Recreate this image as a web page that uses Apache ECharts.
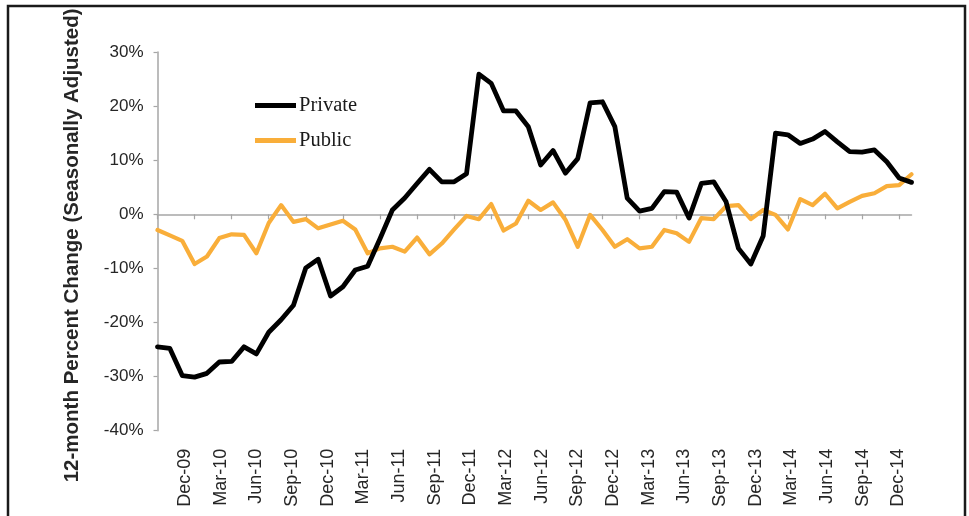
<!DOCTYPE html>
<html>
<head>
<meta charset="utf-8">
<script src="https://cdn.jsdelivr.net/npm/echarts@6/dist/echarts.min.js"></script>
<style>
html,body{margin:0;padding:0;background:#fff;}
#chart{width:969px;height:516px;}
</style>
</head>
<body>
<div id="chart"></div>
<script>
const months = ['Nov-09','Dec-09',
'Jan-10','Feb-10','Mar-10','Apr-10','May-10','Jun-10','Jul-10','Aug-10','Sep-10','Oct-10','Nov-10','Dec-10',
'Jan-11','Feb-11','Mar-11','Apr-11','May-11','Jun-11','Jul-11','Aug-11','Sep-11','Oct-11','Nov-11','Dec-11',
'Jan-12','Feb-12','Mar-12','Apr-12','May-12','Jun-12','Jul-12','Aug-12','Sep-12','Oct-12','Nov-12','Dec-12',
'Jan-13','Feb-13','Mar-13','Apr-13','May-13','Jun-13','Jul-13','Aug-13','Sep-13','Oct-13','Nov-13','Dec-13',
'Jan-14','Feb-14','Mar-14','Apr-14','May-14','Jun-14','Jul-14','Aug-14','Sep-14','Oct-14','Nov-14','Dec-14'];

const privateVals = [-24.5,-24.8,-29.8,-30.1,-29.4,-27.3,-27.2,-24.5,-25.8,-21.8,
-19.5,-16.8,-9.9,-8.3,-15.1,-13.4,-10.3,-9.6,-4.5,0.8,
3.0,5.7,8.3,6.0,6.0,7.5,25.9,24.2,19.1,19.1,
16.2,9.1,11.8,7.6,10.3,20.6,20.8,16.2,3.0,0.6,
1.1,4.2,4.1,-0.7,5.7,6.0,2.3,-6.3,-9.2,-4.0,
15.0,14.7,13.1,13.9,15.3,13.4,11.6,11.5,11.9,9.7,
6.7,5.9];

const publicVals = [-2.9,-3.9,-4.9,-9.2,-7.8,-4.4,-3.7,-3.8,-7.2,-1.6,
1.7,-1.4,-0.9,-2.6,-1.9,-1.2,-2.8,-7.2,-6.3,-6.0,
-6.9,-4.3,-7.4,-5.4,-2.8,-0.3,-0.9,1.9,-3.0,-1.7,
2.5,0.8,2.2,-1.0,-6.0,-0.1,-2.9,-6.0,-4.6,-6.3,
-6.0,-2.9,-3.5,-5.1,-0.7,-0.9,1.5,1.7,-0.9,0.8,
-0.1,-2.8,2.8,1.7,3.8,1.1,2.3,3.4,3.9,5.2,
5.4,7.4];

const xTickLabels = ['Dec-09','Mar-10','Jun-10','Sep-10','Dec-10','Mar-11','Jun-11','Sep-11','Dec-11',
'Mar-12','Jun-12','Sep-12','Dec-12','Mar-13','Jun-13','Sep-13','Dec-13','Mar-14','Jun-14','Sep-14','Dec-14'];

const yMin = -40, yMax = 30, yStep = 10;
const yTitle = '12-month Percent Change (Seasonally Adjusted)';

const chart = echarts.init(document.getElementById('chart'), null, {renderer:'canvas'});
const axisGray = '#a6a6a6';
const txt = '#262626';

chart.setOption({
  animation: false,
  backgroundColor: '#ffffff',
  graphic: [{
    type: 'rect',
    shape: {x: 8, y: 6, width: 957, height: 530},
    style: {fill: 'none', stroke: '#1a1a1a', lineWidth: 2.5},
    silent: true
  }],
  legend: {
    orient: 'vertical',
    left: 250,
    top: 90,
    itemWidth: 41,
    itemHeight: 5,
    itemGap: 14,
    icon: 'rect',
    textStyle: {fontFamily: 'Liberation Serif', fontSize: 20.5, color: '#1a1a1a', lineHeight: 20, padding: [0, 0, 0, -2]},
    data: ['Private', 'Public']
  },
  grid: [
    {left: 157.5, right: 57.5, top: 52, bottom: 85.3, containLabel: false},
    {left: 167.2, right: 52.8, top: 52, bottom: 85.3, containLabel: false}
  ],
  xAxis: [{
    type: 'category',
    gridIndex: 0,
    data: months,
    boundaryGap: false,
    axisLine: {show: true, onZero: true, lineStyle: {color: axisGray, width: 1.5}},
    axisTick: {show: true, interval: 2, inside: false, length: 5, lineStyle: {color: axisGray, width: 1.2}},
    axisLabel: {show: false},
    splitLine: {show: false}
  }, {
    type: 'category',
    gridIndex: 1,
    data: xTickLabels,
    boundaryGap: true,
    axisLine: {show: false},
    axisTick: {show: false},
    axisLabel: {show: true, interval: 0, rotate: 90, margin: 18, fontFamily: 'Liberation Sans', fontSize: 18, color: txt},
    splitLine: {show: false}
  }],
  yAxis: [{
    type: 'value',
    gridIndex: 0,
    min: yMin, max: yMax, interval: yStep,
    name: yTitle,
    nameLocation: 'middle',
    nameGap: 75,
    nameTextStyle: {fontFamily: 'Liberation Sans', fontWeight: 'bold', fontSize: 20.5, color: txt, padding: [0, 8, 0, 0]},
    axisLine: {show: true, lineStyle: {color: axisGray, width: 1.5}},
    axisTick: {show: true, length: 4, lineStyle: {color: axisGray, width: 1.2}},
    axisLabel: {margin: 14, formatter: '{value}%', fontFamily: 'Liberation Sans', fontSize: 17, color: txt},
    splitLine: {show: false}
  }, {
    type: 'value',
    gridIndex: 1,
    min: 0, max: 1,
    show: false
  }],
  series: [{
    name: 'Private',
    type: 'line',
    xAxisIndex: 0, yAxisIndex: 0,
    data: privateVals,
    symbol: 'none',
    showSymbol: false,
    color: '#000000',
    lineStyle: {color: '#000000', width: 4.8, cap: 'round', join: 'round'},
    itemStyle: {color: '#000000'},
    z: 3
  }, {
    name: 'Public',
    type: 'line',
    xAxisIndex: 0, yAxisIndex: 0,
    data: publicVals,
    symbol: 'none',
    showSymbol: false,
    color: '#F9AE3A',
    lineStyle: {color: '#F9AE3A', width: 4.2, cap: 'round', join: 'round'},
    itemStyle: {color: '#F9AE3A'},
    z: 2
  }]
});
</script>
</body>
</html>
